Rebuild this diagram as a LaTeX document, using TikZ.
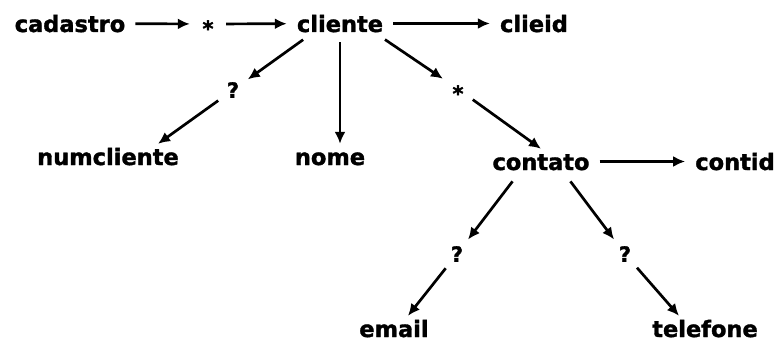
\documentclass[tikz,border=0pt]{standalone}
\usepackage{fontspec}
\setmainfont{DejaVu Sans}
\newfontfamily\heavyfont[FakeBold=1.6]{DejaVu Sans Bold}
\usetikzlibrary{arrows.meta}

\begin{document}
\begin{tikzpicture}[x=1pt, y=-1pt,
	word/.style={font=\heavyfont\fontsize{22.5}{27}\selectfont, anchor=base, inner xsep=10pt, inner ysep=4pt, text height=17pt, text depth=0pt},
	card/.style={circle, inner sep=0pt, minimum size=36pt, font=\heavyfont\fontsize{21}{24}\selectfont},
	arr/.style={-{Latex[length=12pt,width=11pt]}, line width=2.7pt}]
	\useasboundingbox (0,0) rectangle (778,342);
	% top row
	\node[word] (cadastro) at (70,32) {cadastro};
	\node[card] (rep1) at (208,24) {\raisebox{-7.5pt}[9pt][0pt]{*}};
	\node[word] (cliente) at (340,32) {cliente};
	\node[word] (clieid) at (534,32) {clieid};
	% children of cliente
	\node[card] (opt1) at (233,90) {?};
	\node[card] (rep2) at (458,89) {\raisebox{-7.5pt}[9pt][0pt]{*}};
	\node[word] (numcliente) at (108,165) {numcliente};
	\node[word] (nome) at (330,165) {nome};
	\node[word] (contato) at (541,170) {contato};
	\node[word] (contid) at (735,170) {contid};
	% children of contato
	\node[card] (opt2) at (457,254) {?};
	\node[card] (opt3) at (625,254) {?};
	\node[word] (email) at (394,337) {email};
	\node[word] (telefone) at (705,337) {telefone};

	\draw[arr] (cadastro) -- (rep1);
	\draw[arr] (rep1) -- (cliente);
	\draw[arr] (cliente) -- (clieid);
	\draw[arr, shorten <=6pt] ([xshift=-32pt]cliente.south) -- (opt1);
	\draw[arr, shorten <=6pt] (cliente.south) -- (cliente.south |- nome.north);
	\draw[arr, shorten <=6pt] ([xshift=40pt]cliente.south) -- (rep2);
	\draw[arr] (opt1) -- ([xshift=50pt]numcliente.north);
	\draw[arr] (rep2) -- (contato.north);
	\draw[arr] (contato) -- (contid);
	\draw[arr, shorten <=9pt] ([xshift=-23pt]contato.south) -- (opt2);
	\draw[arr, shorten <=9pt] ([xshift=24pt]contato.south) -- (opt3);
	\draw[arr] (opt2) -- ([xshift=14pt]email.north);
	\draw[arr] (opt3) -- ([xshift=-26pt]telefone.north);
\end{tikzpicture}
\end{document}
